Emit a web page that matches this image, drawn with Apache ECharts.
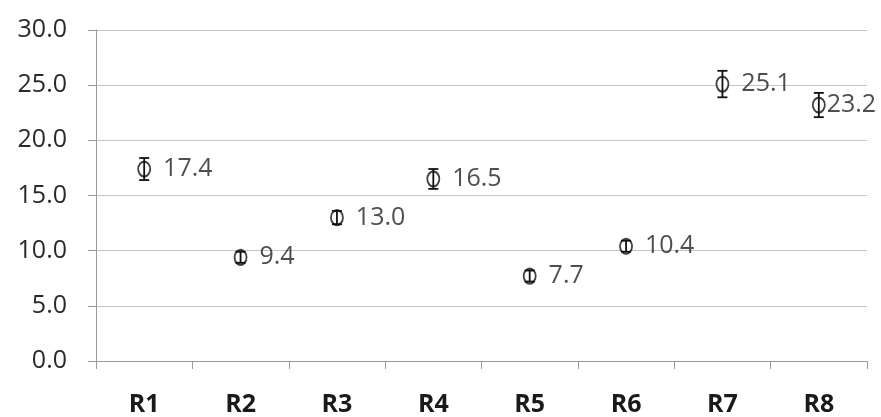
<!DOCTYPE html>
<html>
<head>
<meta charset="utf-8">
<script src="https://cdn.jsdelivr.net/npm/echarts@6/dist/echarts.min.js"></script>
<style>html,body{margin:0;padding:0;background:#fff}#c{width:881px;height:417px}</style>
</head>
<body>
<div id="c"></div>
<script>
var categories = ['R1','R2','R3','R4','R5','R6','R7','R8'];
var values = [17.4, 9.4, 13.0, 16.5, 7.7, 10.4, 25.1, 23.2];
var errors = [1.0, 0.5, 0.6, 0.9, 0.5, 0.5, 1.2, 1.1];
var yTicks = [0, 5, 10, 15, 20, 25, 30];

var FONT = '"Open Sans", sans-serif';
var chart = echarts.init(document.getElementById('c'), null, {renderer: 'canvas'});

var errData = categories.map(function (c, i) { return [i, values[i] - errors[i], values[i] + errors[i]]; });
var pointData = values.map(function (v, i) {
  return i === values.length - 1 ? {value: v, label: {distance: 1}} : v;
});

chart.setOption({
  animation: false,
  grid: {left: 96, right: 14, top: 30, bottom: 53},
  xAxis: {
    type: 'category',
    data: categories,
    boundaryGap: true,
    axisLine: {lineStyle: {color: '#9a9a9a', width: 1}},
    axisTick: {show: true, length: 8, lineStyle: {color: '#9a9a9a'}},
    axisLabel: {fontFamily: FONT, fontSize: 25, fontWeight: 'bold', color: '#1a1a1a', margin: 31}
  },
  yAxis: {
    type: 'value',
    min: yTicks[0], max: yTicks[yTicks.length - 1], interval: 5,
    axisLine: {show: true, lineStyle: {color: '#9a9a9a'}},
    axisTick: {show: true, length: 8, lineStyle: {color: '#9a9a9a'}},
    splitLine: {lineStyle: {color: '#c4c4c4', width: 1}},
    axisLabel: {fontFamily: FONT, fontSize: 25, color: '#2a2a2a', margin: 29,
      formatter: function (v) { return v.toFixed(1); }}
  },
  series: [
    {
      type: 'scatter',
      data: pointData,
      symbol: 'circle',
      symbolSize: [12, 15],
      itemStyle: {color: '#fff', borderColor: '#111', borderWidth: 2},
      label: {show: true, position: 'right', distance: 12, fontFamily: FONT, fontSize: 25, color: '#222',
        formatter: function (p) { return p.value.toFixed(1); }},
      z: 2
    },
    {
      type: 'custom',
      data: errData,
      z: 3,
      renderItem: function (params, api) {
        var x = api.coord([api.value(0), 0])[0];
        var lo = api.coord([api.value(0), api.value(1)])[1];
        var hi = api.coord([api.value(0), api.value(2)])[1];
        var hw = 5;
        var st = {stroke: '#111', lineWidth: 1.8};
        return {type: 'group', children: [
          {type: 'line', shape: {x1: x, y1: lo, x2: x, y2: hi}, style: st},
          {type: 'line', shape: {x1: x - hw, y1: lo, x2: x + hw, y2: lo}, style: st},
          {type: 'line', shape: {x1: x - hw, y1: hi, x2: x + hw, y2: hi}, style: st}
        ]};
      }
    }
  ]
});
</script>
</body>
</html>
